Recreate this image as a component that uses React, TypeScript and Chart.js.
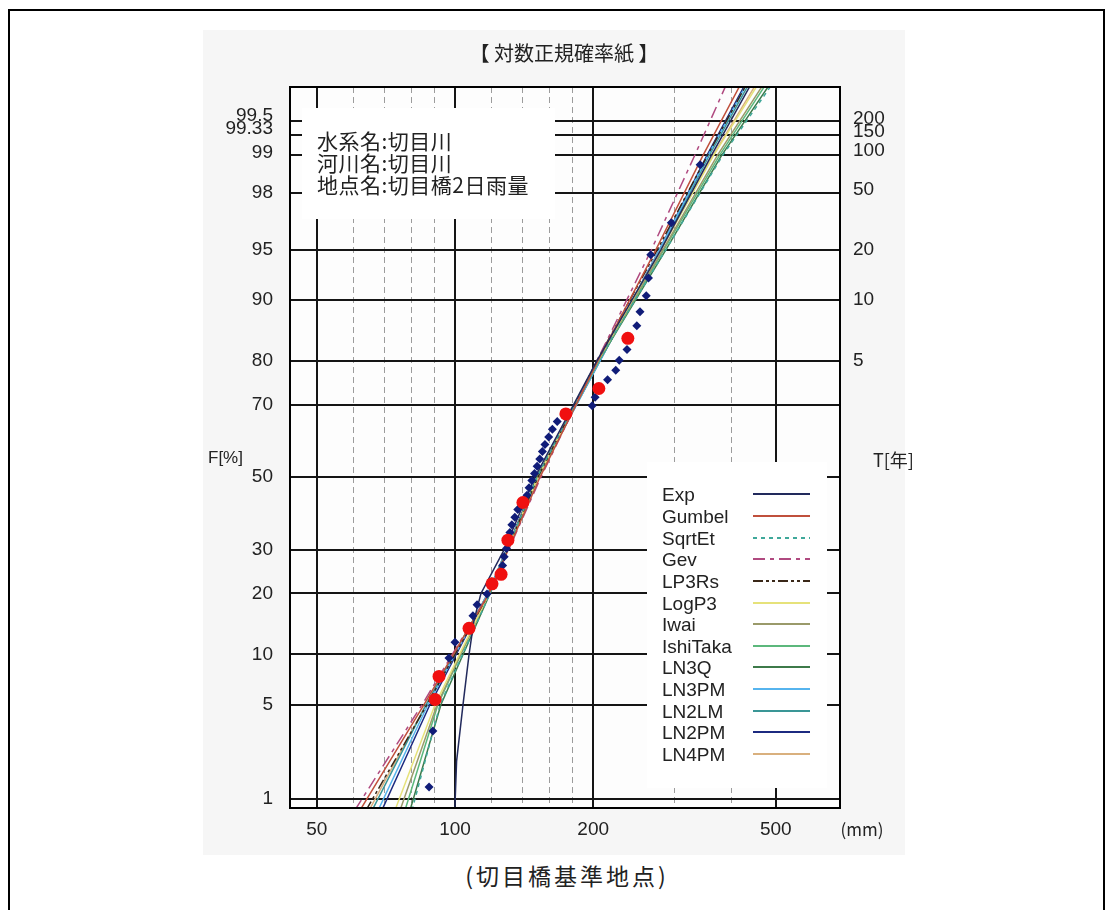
import React, { useEffect, useRef } from "react";
import { Chart, registerables } from "chart.js";

Chart.register(...registerables);

// ---------- texts ----------
const TITLE = "【 対数正規確率紙 】";
const INFO_LINES = ["水系名:切目川", "河川名:切目川", "地点名:切目橋2日雨量"];
const CAPTION = "(切目橋基準地点)";
const F_AXIS_TITLE = "F[%]";
const T_AXIS_TITLE = "T[年]";
const X_UNIT = "(mm)";

// ---------- axes ----------
const X_RANGE = [43.7, 690];
const F_RANGE = [0.836, 99.76];
const X_MAJOR = [50, 100, 200, 500];
const X_MINOR = [60, 70, 80, 90, 120, 140, 160, 180, 300, 400];
const X_LABELS = [50, 100, 200, 500];
const F_GRID = [1, 5, 10, 20, 30, 50, 70, 80, 90, 95, 98, 99, 99.33, 99.5];
const F_LABELS = ["1", "5", "10", "20", "30", "50", "70", "80", "90", "95", "98", "99", "99.33", "99.5"];
const T_AT = [80, 90, 95, 98, 99, 99.33, 99.5];
const T_LABELS = ["5", "10", "20", "50", "100", "150", "200"];

// ---------- observations (ranked) ----------
const OBS_F = [
  1.25, 3.32, 5.39, 7.47, 9.54, 11.6, 13.7, 15.8, 17.8, 19.9, 22.0, 24.1,
  26.1, 28.2, 30.3, 32.4, 34.4, 36.5, 38.6, 40.7, 42.7, 44.8, 46.9, 49.0,
  51.0, 53.1, 55.2, 57.3, 59.3, 61.4, 63.5, 65.6, 67.6, 69.7, 71.8, 73.9,
  75.9, 78.0, 80.1, 82.2, 84.2, 86.3, 88.4, 90.5, 92.5, 94.6, 96.7, 98.8,
];
const OBS_MM = [
  87.8, 89.5, 90.5, 92.3, 97.0, 100.0, 107.3, 109.4, 111.7, 117.4, 120.4, 126.0,
  127.0, 128.0, 129.5, 130.4, 131.7, 133.0, 135.0, 137.0, 140.6, 143.5, 145.0, 147.0,
  149.0, 151.0, 153.0, 155.0, 157.0, 160.0, 163.0, 167.0, 174.4, 199.0, 202.0, 205.8,
  215.0, 224.0, 228.0, 237.0, 238.0, 249.0, 253.0, 261.0, 264.0, 267.0, 296.0, 342.0,
];
const HIGHLIGHT_RANK = [3, 4, 7, 11, 12, 16, 21, 33, 36, 41];

// ---------- fitted distributions ----------
const CURVE_F = [0.8, 5, 20, 50, 80, 95, 99, 99.8];
const EXP_F = [0.8, 2, 5, 10, 15, 20, 30, 50, 80, 95, 99, 99.8];
const EXP_MM = [99.9, 100.8, 104.1, 107.3, 110.0, 113.9, 128.0, 149.4, 203.9, 281.1, 362.0, 448.0];
const GUMBEL_MM = [62.1, 85.6, 118.6, 153.2, 204.9, 274.0, 347.0, 425.0];
const SQRTET_MM = [80.6, 92.8, 119.2, 150.9, 204.9, 288.2, 383.0, 500.0];
const GEV_MM = [60.5, 84.8, 118.6, 153.9, 203.9, 268.0, 333.0, 395.0];
const LP3RS_MM = [64.0, 86.9, 118.6, 151.6, 203.9, 276.0, 355.0, 438.0];
const LOGP3_MM = [74.0, 90.5, 118.6, 151.6, 204.9, 281.1, 366.0, 465.0];
const IWAI_MM = [75.9, 91.4, 118.6, 151.6, 204.9, 283.9, 373.0, 478.0];
const ISHITAKA_MM = [77.8, 91.8, 118.6, 151.6, 205.9, 285.3, 377.0, 484.0];
const LN3Q_MM = [79.8, 93.2, 119.2, 150.9, 205.9, 288.2, 381.0, 494.0];
const LN3PM_MM = [68.0, 87.3, 118.0, 151.6, 207.0, 279.0, 356.0, 438.0];
const LN2LM_MM = [66.0, 86.5, 118.0, 151.6, 207.0, 280.5, 358.0, 443.0];
const LN2PM_MM = [69.3, 88.2, 118.0, 150.9, 207.0, 279.0, 354.0, 435.0];
const LN4PM_MM = [65.0, 86.5, 118.0, 151.6, 205.9, 281.1, 365.0, 460.0];

const CURVE_NAMES = ["Exp", "Gumbel", "SqrtEt", "Gev", "LP3Rs", "LogP3", "Iwai", "IshiTaka", "LN3Q", "LN3PM", "LN2LM", "LN2PM", "LN4PM"];
const CURVE_FS = [EXP_F, CURVE_F, CURVE_F, CURVE_F, CURVE_F, CURVE_F, CURVE_F, CURVE_F, CURVE_F, CURVE_F, CURVE_F, CURVE_F, CURVE_F];
const CURVE_MMS = [EXP_MM, GUMBEL_MM, SQRTET_MM, GEV_MM, LP3RS_MM, LOGP3_MM, IWAI_MM, ISHITAKA_MM, LN3Q_MM, LN3PM_MM, LN2LM_MM, LN2PM_MM, LN4PM_MM];

// ---------- styles ----------
const CURVE_COLORS = ["#222a5c", "#c0503c", "#3fa89a", "#b04a80", "#3a2818", "#e6e27a", "#9a9a6a", "#5cb87c", "#3d7a4a", "#56b4ee", "#3a9696", "#1c2a80", "#d9b07e"];
const CURVE_DASHES: number[][] = [[], [], [4, 4], [12, 5, 4, 5], [10, 3, 3, 3, 3, 3], [], [], [], [], [], [], [], []];
const LATIN_FONT = '"Liberation Sans", Arial, sans-serif';
const CJK_FONT = '"Noto Sans CJK JP", "Noto Sans", sans-serif';

// inverse standard normal CDF (probability-paper scale transform)
function probit(p: number): number {
  const a = [-3.969683028665376e1, 2.209460984245205e2, -2.759285104469687e2, 1.38357751867269e2, -3.066479806614716e1, 2.506628277459239];
  const b = [-5.447609879822406e1, 1.615858368580409e2, -1.556989798598866e2, 6.680131188771972e1, -1.328068155288572e1];
  const c = [-7.784894002430293e-3, -3.223964580411365e-1, -2.400758277161838, -2.549671348283058, 4.374664141464968, 2.938163982698783];
  const d = [7.784695709041462e-3, 3.224671290700398e-1, 2.445134137142996, 3.754408661907416];
  const pl = 0.02425;
  if (p < pl) {
    const q = Math.sqrt(-2 * Math.log(p));
    return (((((c[0] * q + c[1]) * q + c[2]) * q + c[3]) * q + c[4]) * q + c[5]) / ((((d[0] * q + d[1]) * q + d[2]) * q + d[3]) * q + 1);
  }
  if (p <= 1 - pl) {
    const q = p - 0.5;
    const r = q * q;
    return ((((((a[0] * r + a[1]) * r + a[2]) * r + a[3]) * r + a[4]) * r + a[5]) * q) / (((((b[0] * r + b[1]) * r + b[2]) * r + b[3]) * r + b[4]) * r + 1);
  }
  const q = Math.sqrt(-2 * Math.log(1 - p));
  return -(((((c[0] * q + c[1]) * q + c[2]) * q + c[3]) * q + c[4]) * q + c[5]) / ((((d[0] * q + d[1]) * q + d[2]) * q + d[3]) * q + 1);
}
const zOf = (f: number) => probit(f / 100);

const LEFT_NUDGE: Record<string, number> = { "99.5": -5, "99.33": -6, "99": -3 };
const RIGHT_NUDGE: Record<string, number> = { "200": -2, "150": -3, "100": -5, "50": -3 };
const PANEL_W = 702;

const paperPlugin = {
  id: "paper",
  beforeDraw(chart: any) {
    const { ctx, chartArea: a, height } = chart;
    ctx.save();
    ctx.fillStyle = "#f6f6f6";
    ctx.fillRect(0, 0, PANEL_W, height);
    ctx.fillStyle = "#fdfdfd";
    ctx.fillRect(a.left, a.top, a.right - a.left, a.bottom - a.top);
    ctx.restore();
  },
  beforeDatasetsDraw(chart: any) {
    const { ctx, chartArea: a } = chart;
    const xs = chart.scales.x;
    const ys = chart.scales.y;
    ctx.save();
    ctx.strokeStyle = "#9c9c9c";
    ctx.lineWidth = 1;
    ctx.setLineDash([6, 4]);
    for (const v of X_MINOR) {
      const px = Math.round(xs.getPixelForValue(v)) + 0.5;
      ctx.beginPath();
      ctx.moveTo(px, a.top);
      ctx.lineTo(px, a.bottom);
      ctx.stroke();
    }
    ctx.setLineDash([]);
    ctx.strokeStyle = "#151515";
    ctx.lineWidth = 2;
    for (const v of X_MAJOR) {
      const px = Math.round(xs.getPixelForValue(v));
      ctx.beginPath();
      ctx.moveTo(px, a.top);
      ctx.lineTo(px, a.bottom);
      ctx.stroke();
    }
    for (const f of F_GRID) {
      const py = Math.round(ys.getPixelForValue(zOf(f)));
      ctx.beginPath();
      ctx.moveTo(a.left, py);
      ctx.lineTo(a.right, py);
      ctx.stroke();
    }
    // white boxes (station info, legend)
    ctx.fillStyle = "#ffffff";
    ctx.fillRect(a.left + 12, a.top + 21, 253, 111);
    ctx.fillRect(a.left + 357, a.top + 375, 180, 326);
    ctx.restore();
  },
  afterDatasetsDraw(chart: any) {
    const { ctx, chartArea: a } = chart;
    const xs = chart.scales.x;
    const ys = chart.scales.y;
    ctx.save();
    ctx.strokeStyle = "#000";
    ctx.lineWidth = 2;
    ctx.strokeRect(a.left, a.top, a.right - a.left, a.bottom - a.top);

    ctx.fillStyle = "#222";
    ctx.font = `20px ${CJK_FONT}`;
    ctx.textAlign = "center";
    ctx.textBaseline = "middle";
    ctx.fillText(TITLE, 361, 23);

    ctx.font = `21px ${CJK_FONT}`;
    ctx.textAlign = "left";
    try { (ctx as any).letterSpacing = "0.5px"; } catch (e) {}
    INFO_LINES.forEach((t, i) => ctx.fillText(t, a.left + 27, a.top + 54 + i * 22));
    try { (ctx as any).letterSpacing = "0px"; } catch (e) {}

    ctx.font = `19px ${LATIN_FONT}`;
    ctx.textAlign = "right";
    F_GRID.forEach((f, i) => {
      const lab = F_LABELS[i];
      const py = ys.getPixelForValue(zOf(f)) + (LEFT_NUDGE[lab] || 0);
      ctx.fillText(lab, a.left - 17, py);
    });
    ctx.textAlign = "left";
    T_AT.forEach((f, i) => {
      const lab = T_LABELS[i];
      const py = ys.getPixelForValue(zOf(f)) + (RIGHT_NUDGE[lab] || 0);
      ctx.fillText(lab, a.right + 13, py);
    });
    ctx.textAlign = "center";
    X_LABELS.forEach((v) => ctx.fillText(String(v), xs.getPixelForValue(v), a.bottom + 22));
    ctx.font = `17px ${CJK_FONT}`;
    ctx.fillText(X_UNIT, a.right + 22, a.bottom + 22);
    ctx.font = `17px ${LATIN_FONT}`;
    ctx.textAlign = "left";
    ctx.fillText(F_AXIS_TITLE, 5, 428);
    ctx.font = `18px ${CJK_FONT}`;
    ctx.fillText(T_AXIS_TITLE, a.right + 33, 430);

    CURVE_NAMES.forEach((name, i) => {
      const ry = a.top + 407.3 + i * 21.64;
      ctx.font = `19px ${LATIN_FONT}`;
      ctx.textAlign = "left";
      ctx.textBaseline = "alphabetic";
      ctx.fillStyle = "#222";
      ctx.fillText(name, a.left + 372, ry + 7);
      ctx.strokeStyle = CURVE_COLORS[i];
      ctx.lineWidth = 2;
      ctx.setLineDash(CURVE_DASHES[i]);
      ctx.beginPath();
      ctx.moveTo(a.left + 463, Math.round(ry));
      ctx.lineTo(a.left + 520, Math.round(ry));
      ctx.stroke();
    });
    ctx.restore();
  },
};

export default function App() {
  const ref = useRef<HTMLCanvasElement>(null);
  useEffect(() => {
    if (!ref.current) return;
    const red = HIGHLIGHT_RANK.map((r) => ({ x: OBS_MM[r - 1], y: zOf(OBS_F[r - 1]) }));
    const blue = OBS_MM.map((v, i) => ({ x: v, y: zOf(OBS_F[i]) }));
    const curves = CURVE_NAMES.map((name, k) => ({
      label: name,
      data: CURVE_MMS[k].map((v, i) => ({ x: v, y: zOf(CURVE_FS[k][i]) })),
      showLine: true,
      borderColor: CURVE_COLORS[k],
      borderWidth: 1.5,
      borderDash: CURVE_DASHES[k],
      pointRadius: 0,
      tension: 0,
      order: 10 + k,
      clip: 0,
    }));
    const chart = new Chart(ref.current, {
      type: "scatter",
      data: {
        datasets: [
          { label: "highlight", data: red, pointStyle: "circle", pointRadius: 6.5, backgroundColor: "#f01010", borderWidth: 0, order: 0 },
          { label: "obs", data: blue, pointStyle: "rectRot", pointRadius: 4.5, backgroundColor: "#101c78", borderWidth: 0, order: 1 },
          ...curves,
        ] as any,
      },
      options: {
        animation: false,
        responsive: false,
        events: [],
        layout: { padding: { left: 87, right: 113, top: 57, bottom: 47 } },
        plugins: { legend: { display: false }, tooltip: { enabled: false } },
        scales: {
          x: { type: "logarithmic", min: X_RANGE[0], max: X_RANGE[1], bounds: "data", display: false },
          y: { type: "linear", min: zOf(F_RANGE[0]), max: zOf(F_RANGE[1]), bounds: "data", display: false },
        },
      },
      plugins: [paperPlugin],
    });
    return () => chart.destroy();
  }, []);

  return (
    <div style={{ position: "relative", width: 1097, height: 902, overflow: "hidden" }}>
      <div style={{ position: "absolute", left: 0, top: 1, width: 1097, height: 960, border: "2px solid #000", boxSizing: "border-box" }} />
      <div style={{ position: "absolute", left: 195, top: 22, width: 750, height: 825 }}>
        <canvas ref={ref} width={750} height={825} style={{ display: "block", width: 750, height: 825 }} />
      </div>
      <div
        style={{
          position: "absolute",
          left: 359,
          width: 400,
          top: 851,
          textAlign: "center",
          fontFamily: CJK_FONT,
          fontSize: 23,
          letterSpacing: 3,
          lineHeight: "32px",
          color: "#222",
        }}
      >
        {CAPTION}
      </div>
    </div>
  );
}
